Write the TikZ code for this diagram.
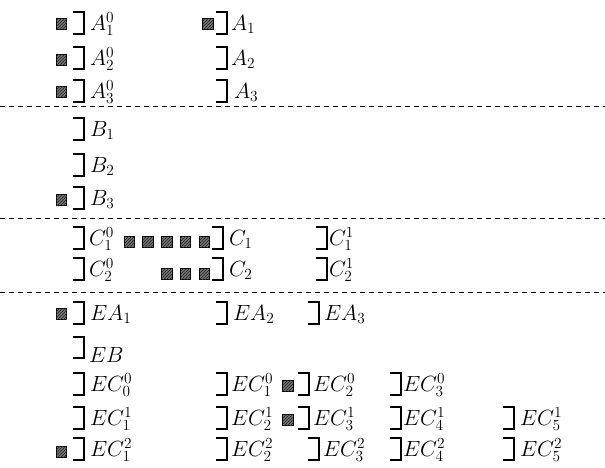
\RequirePackage{fix-cm}
\documentclass[tikz,border=0pt]{standalone}
\usetikzlibrary{patterns}
\tikzset{
  brk/.style={line width=1.2pt, line cap=butt, line join=miter},
  lab/.style={inner sep=0pt, outer sep=0pt, font=\fontsize{22}{26}\selectfont},
  sq/.style={draw=black, line width=1.3pt, fill=black!55, minimum size=10.5pt, inner sep=0pt, outer sep=0pt,
    postaction={pattern=north east lines, pattern color=black!85}},
  dashline/.style={line width=0.9pt, dash pattern=on 5pt off 4pt}
}
% name, bracket left x, bracket centre y, gap, text
\newcommand\brlab[5]{%
  \draw[brk] (#2,#3-11) -- ++(11,0) -- ++(0,22) -- ++(-11,0);
  \node[lab, anchor=base west] (#1) at (#2+11+#4,#3+7) {$#5$};
}
\begin{document}
\begin{tikzpicture}[x=1pt,y=-1pt]
\useasboundingbox (0,0) rectangle (605,467);
% A rows
\node[sq] (sa1) at (61.5,24) {};
\brlab{a10}{73}{23}{6}{A_1^0}
\node[sq] (sb1) at (208,24) {};
\brlab{a1}{216}{23}{4}{A_1}
\node[sq] (sa2) at (61.5,60) {};
\brlab{a20}{73}{58}{6}{A_2^0}
\brlab{a2}{216}{58}{4}{A_2}
\node[sq] (sa3) at (61.5,92) {};
\brlab{a30}{73}{91}{6}{A_3^0}
\brlab{a3}{216}{91}{7}{A_3}
\coordinate (d1l) at (0,106); \coordinate (d1r) at (605,106);
\draw[dashline] (d1l) -- (d1r);
% B rows
\brlab{b1}{73}{129}{6}{B_1}
\brlab{b2}{73}{165}{6}{B_2}
\node[sq] (sb3) at (61.5,200) {};
\brlab{b3}{73}{198}{6}{B_3}
\coordinate (d2l) at (0,218); \coordinate (d2r) at (605,218);
\draw[dashline] (d2l) -- (d2r);
% C rows
\brlab{c10}{73}{238}{5}{C_1^0}
\node[sq] (sc1) at (129.5,242) {};
\node[sq] (sc2) at (148,242) {};
\node[sq] (sc3) at (167,242) {};
\node[sq] (sc4) at (185.5,242) {};
\node[sq] (sc5) at (204.5,242) {};
\brlab{c1}{212}{238}{6}{C_1}
\brlab{c11}{316}{238}{2}{C_1^1}
\brlab{c20}{73}{269}{5}{C_2^0}
\node[sq] (sd3) at (167,274) {};
\node[sq] (sd4) at (185.5,274) {};
\node[sq] (sd5) at (204.5,274) {};
\brlab{c2}{212}{269}{6}{C_2}
\brlab{c21}{316}{269}{2}{C_2^1}
\coordinate (d3l) at (0,292); \coordinate (d3r) at (605,292);
\draw[dashline] (d3l) -- (d3r);
% E rows
\node[sq] (se1) at (61.5,314) {};
\brlab{ea1}{73}{313}{6}{EA_1}
\brlab{ea2}{216}{313}{6}{EA_2}
\brlab{ea3}{308}{313}{5}{EA_3}
\draw[brk] (73,337) -- ++(11,0) -- ++(0,21) -- ++(-11,0);
\node[lab, anchor=base west] (eb) at (89,362) {$EB$};
\brlab{ec00}{73}{384}{6}{EC_0^0}
\brlab{ec10}{216}{384}{4}{EC_1^0}
\node[sq] (sf1) at (288,386) {};
\brlab{ec20}{298}{384}{4}{EC_2^0}
\brlab{ec30}{390}{384}{2}{EC_3^0}
\brlab{ec11}{73}{418}{6}{EC_1^1}
\brlab{ec21}{216}{418}{4}{EC_2^1}
\node[sq] (sf2) at (288,420) {};
\brlab{ec31}{298}{418}{4}{EC_3^1}
\brlab{ec41}{390}{418}{2}{EC_4^1}
\brlab{ec51}{503}{418}{6}{EC_5^1}
\node[sq] (sf3) at (61.5,452) {};
\brlab{ec12}{73}{449}{6}{EC_1^2}
\brlab{ec22}{216}{449}{4}{EC_2^2}
\brlab{ec32}{308}{449}{4}{EC_3^2}
\brlab{ec42}{390}{449}{2}{EC_4^2}
\brlab{ec52}{503}{449}{6}{EC_5^2}
\end{tikzpicture}
\end{document}
